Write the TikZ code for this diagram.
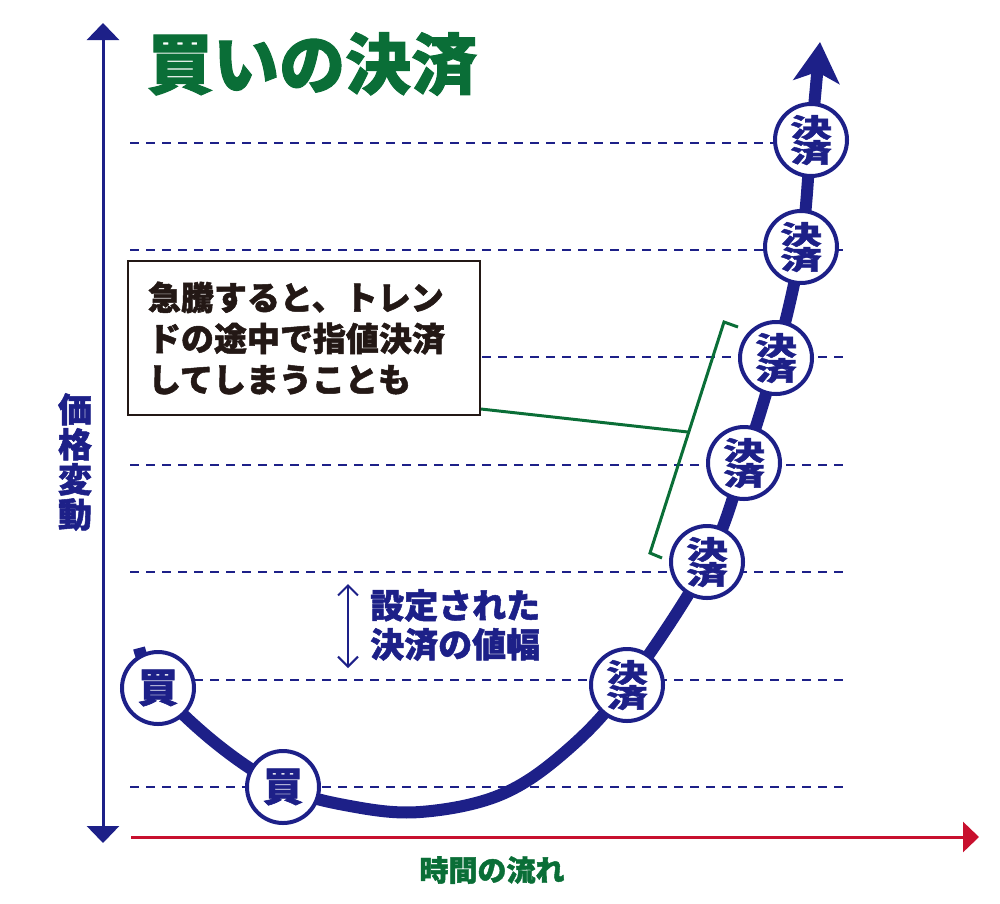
\documentclass[tikz,border=0pt]{standalone}
\usepackage{fontspec}
\usepackage{graphicx}
\setmainfont{Noto Sans CJK JP}[BoldFeatures={FakeBold=1.5}]
\usetikzlibrary{arrows.meta,calc}
\definecolor{navy}{HTML}{1D2088}
\definecolor{jgreen}{HTML}{0A6E37}
\definecolor{jred}{HTML}{C8102E}
\definecolor{ink}{HTML}{231815}
\newcommand\hsx[1]{\scalebox{1.6}[1]{#1}}
\begin{document}
\begin{tikzpicture}[x=1pt,y=-1pt,
  gridline/.style={navy, line width=1.5pt, dash pattern=on 9pt off 7pt},
  yaxis/.style={navy, line width=3pt, {Triangle[width=32pt,length=17pt]}-{Triangle[width=32pt,length=17pt]}},
  xaxis/.style={jred, line width=3pt, -{Triangle[width=30pt,length=16pt]}},
  curve/.style={navy, line width=12pt, -{Stealth[width=46pt,length=40pt,inset=10pt]}},
  coin/.style={circle, draw=navy, line width=4pt, fill=white, minimum size=72pt, inner sep=0pt, text=navy, font=\bfseries\fontsize{40}{40}\selectfont},
  coinb/.style={coin, font=\bfseries\fontsize{26}{25}\selectfont, align=center},
  callbox/.style={draw=ink, line width=2pt, fill=white, minimum width=352pt, minimum height=154pt, text width=312pt, align=left, inner sep=0pt, text=ink, font=\bfseries\fontsize{33}{41}\selectfont},
  bracket/.style={jgreen, line width=3pt},
  rangearrow/.style={navy, line width=2pt, {Straight Barb[width=20pt,length=10pt]}-{Straight Barb[width=20pt,length=10pt]}}
]
\useasboundingbox (0,0) rectangle (1000,903);

% grid lines
\foreach \yy in {143,250,357,465,572,680,787}
  \draw[gridline] (130,\yy) -- (850,\yy);

% axes
\coordinate (ytop) at (103,23);
\coordinate (ybot) at (103,843);
\draw[yaxis] (ytop) -- (ybot);
\coordinate (xl) at (131,837);
\coordinate (xr) at (979,837);
\draw[xaxis] (xl) -- (xr);

% curve points
\coordinate (cs) at (139,648);
\coordinate (c1) at (158,688);
\coordinate (m1) at (218,745);
\coordinate (c2) at (283,787);
\coordinate (m2) at (350,806);
\coordinate (m3) at (420,812);
\coordinate (m4) at (500,795);
\coordinate (m5) at (565,752);
\coordinate (c3) at (627,685);
\coordinate (c4) at (707,562);
\coordinate (c5) at (744,463);
\coordinate (c6) at (776,358);
\coordinate (c7) at (801,247);
\coordinate (c8) at (811,140);
\coordinate (ce) at (820,42);
\draw[curve] plot[smooth, tension=0.6] coordinates {(cs) (c1) (m1) (c2) (m2) (m3) (m4) (m5) (c3) (c4) (c5) (c6) (c7) (c8) (ce)};

% coins
\node[coin] (k1) at (c1) {買};
\node[coin] (k2) at (c2) {買};
\node[coinb] (s1) at (c3) {\hsx{決}\\\hsx{済}};
\node[coinb] (s2) at (c4) {\hsx{決}\\\hsx{済}};
\node[coinb] (s3) at (c5) {\hsx{決}\\\hsx{済}};
\node[coinb] (s4) at (c6) {\hsx{決}\\\hsx{済}};
\node[coinb] (s5) at (c7) {\hsx{決}\\\hsx{済}};
\node[coinb] (s6) at (c8) {\hsx{決}\\\hsx{済}};

% callout
\node[callbox] (call) at (304,338) {急騰すると、トレン\\ドの途中で指値決済\\してしまうことも};
\coordinate (bt) at (724,322);
\coordinate (btt) at (738,327);
\coordinate (bb) at (650,553);
\coordinate (bbt) at (662,558);
\coordinate (bm) at (688,432);
\draw[bracket] (btt) -- (bt) -- (bb) -- (bbt);
\draw[bracket] ($(call.south east)+(0,-7)$) -- (bm);

% range arrow and label
\coordinate (va) at (348,584);
\coordinate (vb) at (348,668);
\draw[rangearrow] (va) -- (vb);
\node[anchor=west, text=navy, font=\bfseries\fontsize{34}{39}\selectfont, align=left, inner sep=0pt] (rng) at (370,625) {設定された\\決済の値幅};

% axis labels and title
\node[text=navy, font=\bfseries\fontsize{34}{35}\selectfont, align=center, inner sep=0pt] (ylab) at (75,462) {価\\格\\変\\動};
\node[text=jgreen, font=\bfseries\fontsize{29}{29}\selectfont, inner sep=0pt] (xlab) at (492,870) {時間の流れ};
\node[text=jgreen, font=\bfseries\fontsize{66}{66}\selectfont, anchor=west, inner sep=0pt] (title) at (147,64) {買いの決済};
\end{tikzpicture}
\end{document}
